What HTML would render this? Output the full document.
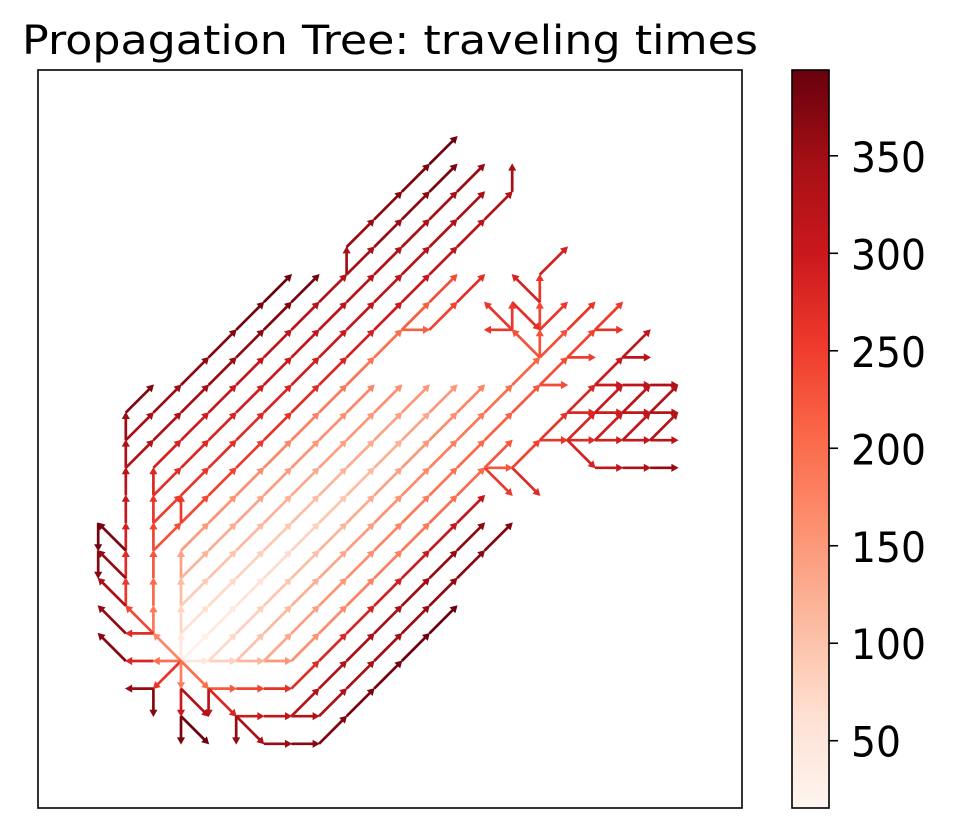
<!DOCTYPE html>
<html>
<head>
<meta charset="utf-8">
<style>
  html, body { margin: 0; padding: 0; background: #ffffff; }
  svg { display: block; font-family: "DejaVu Sans", "Liberation Sans", sans-serif; }
</style>
</head>
<body>
<svg id="chart" width="953" height="829" viewBox="0 0 953 829" xmlns="http://www.w3.org/2000/svg">
  <defs>
    <linearGradient id="redsGrad" x1="0" y1="1" x2="0" y2="0">
      <stop offset="0" stop-color="#fff5f0"/>
      <stop offset="0.125" stop-color="#fee0d2"/>
      <stop offset="0.25" stop-color="#fcbba1"/>
      <stop offset="0.375" stop-color="#fc9272"/>
      <stop offset="0.5" stop-color="#fb6a4a"/>
      <stop offset="0.625" stop-color="#ef3b2c"/>
      <stop offset="0.75" stop-color="#cb181d"/>
      <stop offset="0.875" stop-color="#a50f15"/>
      <stop offset="1" stop-color="#67000d"/>
    </linearGradient>
  </defs>
  <text x="390" y="54" font-size="40" text-anchor="middle" textLength="736" lengthAdjust="spacingAndGlyphs" fill="#000">Propagation Tree: traveling times</text>
  <rect x="38" y="70" width="704" height="738" fill="#fff" stroke="none"/>
  <g id="marks"></g>
  <rect x="38" y="70" width="704" height="738" fill="none" stroke="#000" stroke-width="1.6"/>
  <rect x="792" y="70" width="37" height="738" fill="url(#redsGrad)" stroke="#000" stroke-width="1.6"/>
  <g id="cbticks"></g>
</svg>
<script>
// ---- data (grid coordinates + travel-time values) ----
const chainPoints = [
  [[0,0],[0,4]],
  [[0,0],[4,0]],
  [[0,0],[10,10]],
  [[0,1],[9,10]],
  [[0,2],[8,10]],
  [[0,3],[7,10]],
  [[0,4],[8,12],[10,14]],
  [[8,12],[9,12],[11,14]],
  [[1,0],[11,10]],
  [[2,0],[13,11]],
  [[3,0],[16,13]],
  [[4,0],[11,7]],
  [[0,0],[-1,1],[-1,7]],
  [[-1,4],[12,17],[12,18]],
  [[-1,5],[11,17]],
  [[-1,6],[11,18]],
  [[-1,7],[6,14],[10,18]],
  [[6,14],[6,15],[10,19]],
  [[0,5],[0,6]],
  [[-1,1],[-2,2],[-2,9]],
  [[-2,7],[5,14]],
  [[-2,8],[4,14]],
  [[-2,9],[-1,10]],
  [[-2,2],[-3,3]],
  [[-2,3],[-3,4],[-3,3]],
  [[-2,4],[-3,5],[-3,4]],
  [[-1,1],[-2,1],[-3,2]],
  [[0,0],[-1,0],[-2,0],[-3,1]],
  [[0,0],[-1,-1],[-2,-1]],
  [[-1,-1],[-1,-2]],
  [[0,0],[0,-1],[0,-2],[0,-3]],
  [[0,-1],[1,-2]],
  [[0,-2],[1,-3]],
  [[0,0],[1,-1],[4,-1]],
  [[1,-1],[1,-2]],
  [[1,-1],[2,-2],[5,-2]],
  [[2,-2],[2,-3]],
  [[2,-2],[3,-3],[5,-3],[10,2]],
  [[4,-1],[11,6]],
  [[4,-2],[11,5]],
  [[5,-2],[12,5]],
  [[11,7],[12,7],[13,6]],
  [[11,7],[12,6]],
  [[11,7],[12,8]],
  [[12,7],[13,8],[18,8]],
  [[13,8],[14,9],[18,9]],
  [[14,8],[15,7],[18,7]],
  [[14,8],[15,9]],
  [[15,8],[16,9]],
  [[16,8],[17,9]],
  [[17,8],[18,9]],
  [[14,9],[15,10],[18,10]],
  [[15,9],[16,10]],
  [[16,9],[17,10]],
  [[17,9],[18,10]],
  [[15,10],[17,12]],
  [[16,11],[17,11]],
  [[13,10],[14,10]],
  [[14,11],[15,11]],
  [[15,12],[16,12]],
  [[13,11],[13,14],[14,15]],
  [[13,11],[12,12],[11,12]],
  [[12,12],[11,13]],
  [[12,12],[12,13],[13,12]],
  [[13,13],[12,14]],
  [[13,11],[14,12],[15,13]],
  [[13,12],[14,13]]
];
const chainValues = [
  [15,140],
  [15,150],
  [15,150],
  [50,150],
  [80,160],
  [110,170],
  [140,200,235],
  [200,215,270],
  [60,175],
  [90,210],
  [120,255],
  [150,205],
  [15,170,280],
  [224,330,345],
  [242,340],
  [260,355],
  [280,330,380],
  [330,345,392],
  [235,255],
  [170,240,352],
  [320,385],
  [336,392],
  [352,375],
  [240,340],
  [256,360,370],
  [272,380,385],
  [170,270,360],
  [15,200,280,370],
  [15,260,360],
  [260,370],
  [15,180,300,380],
  [180,330],
  [300,390],
  [15,200,265],
  [200,320],
  [200,280,330],
  [280,360],
  [280,340,370,395],
  [265,310],
  [320,365],
  [330,375],
  [205,225,275],
  [205,255],
  [205,225],
  [225,245,320],
  [245,262,325],
  [260,285,360],
  [260,280],
  [275,295],
  [290,310],
  [305,325],
  [262,280,335],
  [280,300],
  [295,318],
  [310,330],
  [280,315],
  [298,318],
  [215,235],
  [225,250],
  [240,262],
  [210,260,290],
  [210,230,258],
  [230,260],
  [230,255,270],
  [250,285],
  [210,232,258],
  [225,255]
];
const colorTicks = [50, 100, 150, 200, 250, 300, 350];

// ---- scales ----
const VMIN = 15.5, VMAX = 394;
function xScale(i) { return 181 + 27.6 * i; }
function yScale(j) { return 661 - 27.6 * j; }
function cbScale(v) { return 808 - (v - VMIN) / (VMAX - VMIN) * 738; }
const reds = ["#fff5f0","#fee0d2","#fcbba1","#fc9272","#fb6a4a","#ef3b2c","#cb181d","#a50f15","#67000d"];
function hex2rgb(h) { return [parseInt(h.substr(1,2),16), parseInt(h.substr(3,2),16), parseInt(h.substr(5,2),16)]; }
function colorFor(v) {
  let t = (v - VMIN) / (VMAX - VMIN);
  t = Math.max(0, Math.min(1, t));
  const p = t * (reds.length - 1);
  const k = Math.min(reds.length - 2, Math.floor(p));
  const f = p - k;
  const a = hex2rgb(reds[k]), b = hex2rgb(reds[k + 1]);
  const c = a.map((x, n) => Math.round(x + (b[n] - x) * f));
  return "rgb(" + c.join(",") + ")";
}

const NS = "http://www.w3.org/2000/svg";
const marks = document.getElementById("marks");

function drawEdge(p0, p1, v) {
  const x0 = xScale(p0[0]), y0 = yScale(p0[1]);
  const x1 = xScale(p1[0]), y1 = yScale(p1[1]);
  const col = colorFor(v);
  const dx = x1 - x0, dy = y1 - y0;
  const len = Math.sqrt(dx*dx + dy*dy);
  const ux = dx / len, uy = dy / len;
  const hl = 6, hw = 3.4;
  const line = document.createElementNS(NS, "line");
  
  
  line.setAttribute("x1", x0); line.setAttribute("y1", y0);
  line.setAttribute("x2", x1 - ux * hl * 0.6); line.setAttribute("y2", y1 - uy * hl * 0.6);
  line.setAttribute("stroke", col); line.setAttribute("stroke-width", "2.7");
  marks.appendChild(line);
  const bx = x1 - ux * hl, by = y1 - uy * hl;
  const head = document.createElementNS(NS, "polygon");
  
  
  head.setAttribute("points", x1 + "," + y1 + " " + (bx - uy * hw) + "," + (by + ux * hw) + " " + (bx + uy * hw) + "," + (by - ux * hw));
  head.setAttribute("fill", col);
  head.setAttribute("stroke", col);
  head.setAttribute("stroke-width", "0.8");
  marks.appendChild(head);
}

chainPoints.forEach(function (pts, ci) {
  const vals = chainValues[ci];
  for (let s = 0; s < pts.length - 1; s++) {
    const a = pts[s], b = pts[s + 1];
    const steps = Math.max(Math.abs(b[0] - a[0]), Math.abs(b[1] - a[1]));
    const si = Math.sign(b[0] - a[0]), sj = Math.sign(b[1] - a[1]);
    for (let k = 0; k < steps; k++) {
      const p0 = [a[0] + si * k, a[1] + sj * k];
      const p1 = [a[0] + si * (k + 1), a[1] + sj * (k + 1)];
      const v = vals[s] + (vals[s + 1] - vals[s]) * (k + 1) / steps;
      drawEdge(p0, p1, v);
    }
  }
});

// ---- colorbar ticks ----
const cb = document.getElementById("cbticks");
colorTicks.forEach(function (t) {
  const y = cbScale(t);
  const tk = document.createElementNS(NS, "line");
  
  
  tk.setAttribute("x1", 829); tk.setAttribute("x2", 838);
  tk.setAttribute("y1", y); tk.setAttribute("y2", y);
  tk.setAttribute("stroke", "#000"); tk.setAttribute("stroke-width", "1.6");
  cb.appendChild(tk);
  const lb = document.createElementNS(NS, "text");
  
  
  lb.setAttribute("x", 851);
  lb.setAttribute("y", y + 16);
  lb.setAttribute("font-size", "42");
  const s = String(t);
  lb.setAttribute("textLength", s.length * 25);
  lb.setAttribute("lengthAdjust", "spacingAndGlyphs");
  lb.setAttribute("fill", "#000");
  lb.textContent = s;
  cb.appendChild(lb);
});
</script>
</body>
</html>
